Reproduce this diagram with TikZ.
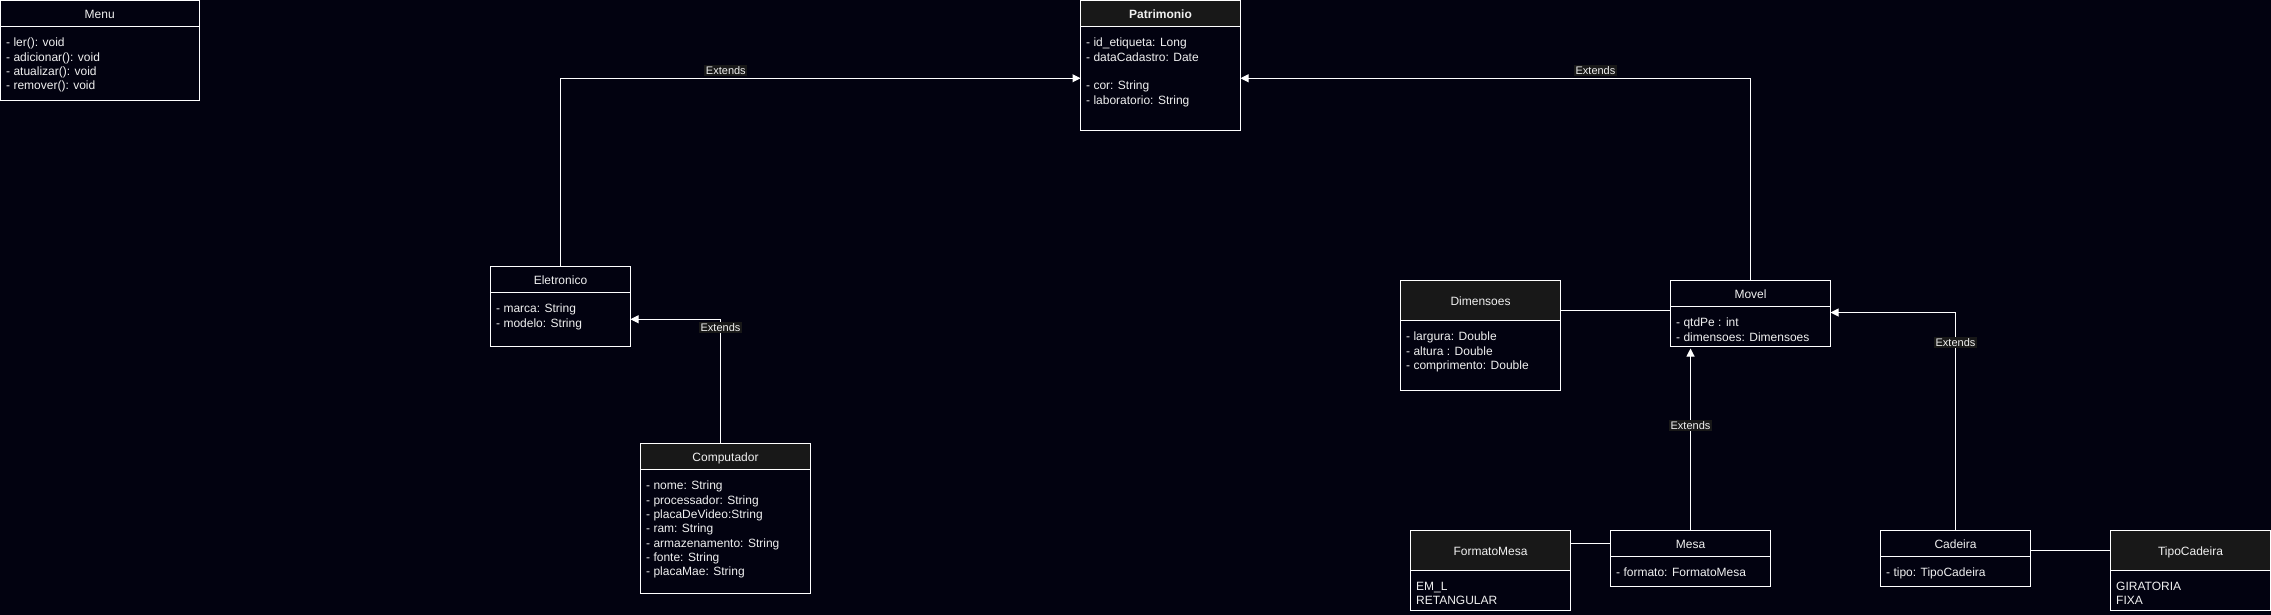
\documentclass[tikz,border=0pt]{standalone}
\usepackage{fontspec}
\setsansfont{Liberation Sans}
\usepackage{tikz}
\usetikzlibrary{positioning, arrows.meta}

\definecolor{bgnavy}{RGB}{2,2,16}
\definecolor{headgray}{RGB}{24,24,24}
\definecolor{ink}{RGB}{240,240,240}

\begin{document}
\begin{tikzpicture}[
    x=1pt, y=-1pt,
    node distance=0pt,
    every node/.style={font=\sffamily\fontsize{12}{14.3}\selectfont, text=ink},
    classhead/.style={draw=white, line width=1pt, outer sep=0pt, inner sep=0pt, minimum height=26pt, text height=10.7pt, text depth=0pt, align=center},
    grayhead/.style={classhead, fill=headgray},
    classbody/.style={draw=white, line width=1pt, outer sep=0pt, inner sep=0pt},
    attrs/.style={anchor=north west, align=left, inner sep=0pt},
    ext/.style={draw=white, line width=1pt, -{Triangle[length=8pt, width=8pt]}},
    assoc/.style={draw=white, line width=1pt},
    lbl/.style={font=\sffamily\fontsize{11}{13}\selectfont, fill=headgray, inner sep=1.5pt, outer sep=0pt}
]

% 背景
\useasboundingbox (0,0) rectangle (2271,614);
\fill[bgnavy] (-6,-6) rectangle (2277,620);

% Menu
\node[classhead, minimum width=198.5pt] (menu) at (99.75,13.5) {Menu};
\node[classbody, minimum width=198.5pt, minimum height=73.5pt, below=of menu] (menuBody) {};
\node[attrs] (menuAttrs) at ([xshift=5.5pt, yshift=-11.5pt]menuBody.north west) {- ler(): void\\- adicionar(): void\\- atualizar(): void\\- remover(): void};

% Patrimonio
\node[grayhead, minimum width=160pt] (patrimonio) at (1160.5,13.5) {\bfseries Patrimonio};
\node[classbody, minimum width=160pt, minimum height=103.5pt, below=of patrimonio] (patrimonioBody) {};
\node[attrs] (patrimonioAttrs) at ([xshift=5.5pt, yshift=-11.5pt]patrimonioBody.north west) {- id\_etiqueta: Long\\- dataCadastro: Date\\[14.3pt]- cor: String\\- laboratorio: String};

% Eletronico
\node[classhead, minimum width=140pt] (eletronico) at (560.5,279.5) {Eletronico};
\node[classbody, minimum width=140pt, minimum height=53.5pt, below=of eletronico] (eletronicoBody) {};
\node[attrs] (eletronicoAttrs) at ([xshift=5.5pt, yshift=-11.5pt]eletronicoBody.north west) {- marca: String\\- modelo: String};

% Computador
\node[grayhead, minimum width=170pt] (computador) at (725.5,456.5) {Computador};
\node[classbody, minimum width=170pt, minimum height=124pt, below=of computador] (computadorBody) {};
\node[attrs] (computadorAttrs) at ([xshift=5.5pt, yshift=-11.5pt]computadorBody.north west) {- nome: String\\- processador: String\\- placaDeVideo:String\\- ram: String\\- armazenamento: String\\- fonte: String\\- placaMae: String};

% Dimensoes
\node[grayhead, minimum width=160pt, minimum height=40pt] (dimensoes) at (1480.5,300.5) {Dimensoes};
\node[classbody, minimum width=160pt, minimum height=69.5pt, below=of dimensoes] (dimensoesBody) {};
\node[attrs] (dimensoesAttrs) at ([xshift=5.5pt, yshift=-11.5pt]dimensoesBody.north west) {- largura: Double\\- altura : Double\\- comprimento: Double};

% Movel
\node[classhead, minimum width=160pt] (movel) at (1750.5,293.5) {Movel};
\node[classbody, minimum width=160pt, minimum height=40pt, below=of movel] (movelBody) {};
\node[attrs] (movelAttrs) at ([xshift=5.5pt, yshift=-11.5pt]movelBody.north west) {- qtdPe : int\\- dimensoes: Dimensoes};

% FormatoMesa
\node[grayhead, minimum width=160pt, minimum height=40pt] (formatoMesa) at (1490.5,550.5) {FormatoMesa};
\node[classbody, minimum width=160pt, minimum height=40pt, below=of formatoMesa] (formatoMesaBody) {};
\node[attrs] (formatoMesaAttrs) at ([xshift=5.5pt, yshift=-11.5pt]formatoMesaBody.north west) {EM\_L\\RETANGULAR};

% Mesa
\node[classhead, minimum width=160pt] (mesa) at (1690.5,543.5) {Mesa};
\node[classbody, minimum width=160pt, minimum height=30pt, below=of mesa] (mesaBody) {};
\node[attrs] (mesaAttrs) at ([xshift=5.5pt, yshift=-11.5pt]mesaBody.north west) {- formato: FormatoMesa};

% Cadeira
\node[classhead, minimum width=150pt] (cadeira) at (1955.5,543.5) {Cadeira};
\node[classbody, minimum width=150pt, minimum height=30pt, below=of cadeira] (cadeiraBody) {};
\node[attrs] (cadeiraAttrs) at ([xshift=5.5pt, yshift=-11.5pt]cadeiraBody.north west) {- tipo: TipoCadeira};

% TipoCadeira
\node[grayhead, minimum width=160pt, minimum height=40pt] (tipoCadeira) at (2190.5,550.5) {TipoCadeira};
\node[classbody, minimum width=160pt, minimum height=40pt, below=of tipoCadeira] (tipoCadeiraBody) {};
\node[attrs] (tipoCadeiraAttrs) at ([xshift=5.5pt, yshift=-11.5pt]tipoCadeiraBody.north west) {GIRATORIA\\FIXA};

% 继承 (Extends)
\draw[ext] (eletronico.north) |- node[lbl, pos=0.659, above=2.5pt] (extEletronico) {Extends} (patrimonioBody.west);
\draw[ext] ([xshift=-5pt]computador.north) |- node[lbl, pos=0.465] (extComputador) {Extends} (eletronicoBody.east);
\draw[ext] (movel.north) |- node[lbl, pos=0.652, above=2.5pt] (extMovel) {Extends} (patrimonioBody.east);
\draw[ext, shorten >=2pt] (mesa.north) -- node[lbl, pos=0.572] (extMesa) {Extends} (mesa.north |- movelBody.south);
\coordinate (movelSide) at ([yshift=-6pt]movelBody.north east);
\draw[ext] (cadeira.north) |- node[lbl, pos=0.432] (extCadeira) {Extends} (movelSide);

% 关联
\coordinate (dimLink) at ([yshift=-10pt]dimensoes.east);
\draw[assoc] (dimLink) -- (dimLink -| movel.west);
\draw[assoc] (mesa.west) -- (mesa.west -| formatoMesa.east);
\draw[assoc] (tipoCadeira.west) -- (tipoCadeira.west -| cadeira.east);

\end{tikzpicture}
\end{document}
